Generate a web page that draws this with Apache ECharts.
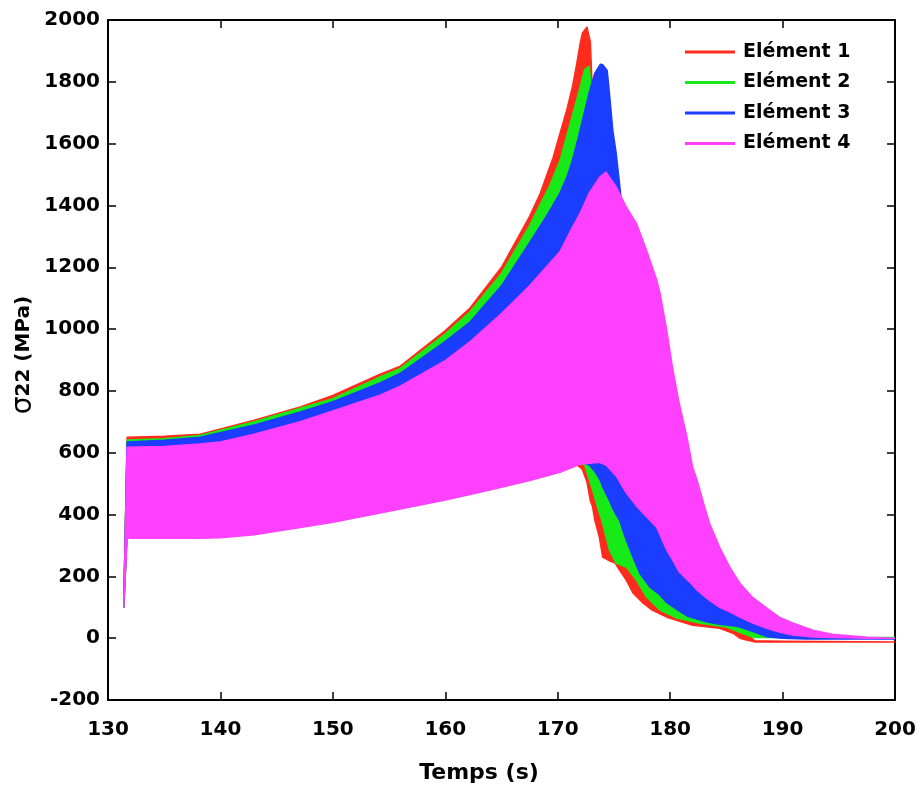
<!DOCTYPE html>
<html><head><meta charset="utf-8">
<script src="https://cdn.jsdelivr.net/npm/echarts@6/dist/echarts.min.js"></script>
<style>html,body{margin:0;padding:0;background:#fff}#c{width:923px;height:790px}</style>
</head><body><div id="c"></div>
<script>
// ---- Data (time in s, stress in MPa): upper / lower envelopes of the oscillation ----
const names = ['Elément 1', 'Elément 2', 'Elément 3', 'Elément 4'];

const t1 = [131.4,131.7,135,138.2,143,147.1,150,154.2,156,160,162.2,165,167.5,168.4,169.0,169.6,170.2,170.8,171.3,171.7,172.0,172.2,172.6,172.9,173.1,173.3,173.7,174.0,174.6,175.1,175.5,176.1,176.7,177.6,178.4,179.7,182.0,184.4,185.6,186.2,186.8,187.5,190,200];
const upper1 = [100,650,653,660,705,748,785,854,880,995,1068,1200,1365,1435,1495,1556,1633,1708,1783,1860,1925,1958,1977,1930,1750,1550,1200,1000,620,480,420,340,290,220,180,130,75,55,45,35,15,-8,-10,-12];
const lower1 = [100,345,345,345,355,378,395,425,438,467,485,508,530,537,542,548,555,560,562,560,553,545,505,445,425,382,327,262,250,243,220,188,146,113,91,68,42,32,16,0,-6,-12,-12,-12];

const t2 = [131.4,131.7,135,138.2,143,147.1,150,154.2,156,160,162.2,165,167.5,168.4,169.3,170.2,171.3,172.0,172.4,172.8,173.1,173.5,174.0,174.6,175.2,176.1,177.0,177.9,179.1,180.6,182.6,185.0,186.2,187.0,187.5,188,190,200];
const upper2 = [100,641,645,656,700,744,775,845,873,985,1056,1180,1335,1400,1465,1545,1690,1783,1840,1850,1720,1450,1100,760,590,470,365,285,200,140,90,60,50,30,20,10,3,2];
const lower2 = [100,340,340,340,350,372,390,420,432,462,480,503,525,533,543,552,562,566,560,515,479,430,372,285,243,230,188,133,91,65,49,36,19,8,2,2,2,2];

const t3 = [131.4,131.7,135,138.2,143,147.1,150,154.2,156,160,162.2,165,167.5,169.0,170.2,170.8,171.3,171.8,172.3,172.8,173.3,173.8,174.0,174.4,174.6,174.9,175.2,175.5,175.7,176.1,176.7,177.3,178.2,179.1,179.7,180.8,181.5,182.4,183.3,184.4,185.6,186.2,187.5,188.6,190,192,194,200];
const upper3 = [100,635,640,650,690,732,765,826,857,960,1023,1140,1280,1365,1440,1490,1545,1615,1690,1765,1828,1857,1855,1837,1763,1643,1569,1470,1400,1280,1100,930,690,480,400,285,245,195,165,135,105,90,60,40,20,4,0,-3];
const lower3 = [100,345,345,345,355,378,395,425,438,467,485,508,530,545,557,562,566,568,568,560,540,510,489,460,446,420,400,382,360,317,262,210,165,140,115,88,72,62,52,45,40,36,20,5,0,-3,-3,-3];

const t4 = [131.4,131.7,135,138.2,140,143,147.1,150,154.2,156,160,162.2,165,167.5,170.2,171.1,172.0,172.8,173.7,174.3,175.2,176.1,177.0,177.9,178.8,179.1,179.7,180.2,180.8,181.5,182.0,182.4,182.9,183.5,184.4,185.3,186.2,187.3,188.6,189.7,190.9,192.7,194.4,197.5,200];
const upper4 = [100,618,620,628,635,660,700,735,786,815,898,959,1050,1140,1250,1315,1375,1440,1490,1508,1460,1395,1342,1255,1160,1116,996,877,760,650,553,511,446,372,294,230,178,133,97,68,49,26,13,3,0];
const lower4 = [100,323,323,323,325,335,358,375,405,418,447,465,488,510,537,550,563,566,569,560,525,470,428,393,359,335,285,255,215,190,172,155,140,122,100,85,68,50,32,20,10,4,2,0,0];

const colors = ['#ff2b1c', '#17ea17', '#1a3dff', '#ff40ff'];
const xMin = 130, xMax = 200, xStep = 10;
const yMin = -200, yMax = 2000, yStep = 200;

const elements = [
  {t: t1, up: upper1, lo: lower1},
  {t: t2, up: upper2, lo: lower2},
  {t: t3, up: upper3, lo: lower3},
  {t: t4, up: upper4, lo: lower4}
];

// Each element is drawn as the filled band between its upper and lower envelopes,
// positioned through the chart's own axes (api.coord).
const series = elements.map((e, k) => {
  const color = colors[k];
  return {
    name: names[k], type: 'custom', z: 2 + k, animation: false, clip: true,
    itemStyle: {color: color},
    data: e.t.map((x, i) => [x, e.up[i], e.lo[i]]),
    encode: {x: 0, y: [1, 2]},
    renderItem: function (params, api) {
      if (params.dataIndex !== 0) return null;
      const pts = [];
      for (let i = 0; i < e.t.length; i++) pts.push(api.coord([e.t[i], e.up[i]]));
      for (let i = e.t.length - 1; i >= 0; i--) pts.push(api.coord([e.t[i], e.lo[i]]));
      return {
        type: 'polygon', shape: {points: pts},
        style: {fill: color, stroke: color, lineWidth: 1.5, lineJoin: 'round'}
      };
    }
  };
});

const FONT = 'DejaVu Sans';
const axisLine = {show: true, onZero: false, lineStyle: {color: '#000', width: 2}};
const axisTick = {show: true, inside: true, length: 8, lineStyle: {color: '#000', width: 1.5}};

const chart = echarts.init(document.getElementById('c'), null, {renderer: 'canvas'});
chart.setOption({
  backgroundColor: '#fff',
  animation: false,
  grid: {left: 108, right: 28, top: 20, bottom: 90, containLabel: false},
  legend: {
    data: names, orient: 'vertical', left: 680, top: 36,
    icon: 'rect', itemWidth: 50, itemHeight: 3, itemGap: 8.5,
    textStyle: {fontFamily: FONT, fontWeight: 'bold', fontSize: 19, color: '#000', lineHeight: 22, padding: [0, 0, 0, 3]}
  },
  xAxis: [
    {type: 'value', min: xMin, max: xMax, interval: xStep, position: 'bottom',
     axisLine: axisLine, axisTick: axisTick, splitLine: {show: false},
     axisLabel: {fontFamily: FONT, fontWeight: 'bold', fontSize: 20, color: '#000', margin: 20,
                 formatter: v => String(v)}},
    {type: 'value', min: xMin, max: xMax, interval: xStep, position: 'top',
     axisLine: axisLine, axisTick: axisTick, splitLine: {show: false}, axisLabel: {show: false}}
  ],
  yAxis: [
    {type: 'value', min: yMin, max: yMax, interval: yStep, position: 'left',
     axisLine: axisLine, axisTick: axisTick, splitLine: {show: false},
     axisLabel: {fontFamily: FONT, fontWeight: 'bold', fontSize: 20, color: '#000', margin: 8,
                 formatter: v => String(v)}},
    {type: 'value', min: yMin, max: yMax, interval: yStep, position: 'right',
     axisLine: axisLine, axisTick: axisTick, splitLine: {show: false}, axisLabel: {show: false}}
  ],
  graphic: [
    {type: 'text', x: 479, y: 773, style: {text: 'Temps (s)', fontFamily: FONT, fontWeight: 'bold', fontSize: 22, fill: '#000', align: 'center', verticalAlign: 'middle'}},
    {type: 'text', x: 24, y: 355, rotation: Math.PI / 2,
     style: {text: '{s|σ}{n|22 (MPa)}', align: 'center', verticalAlign: 'middle', fill: '#000',
       rich: {s: {fontFamily: FONT, fontSize: 28, fill: '#000'},
              n: {fontFamily: FONT, fontWeight: 'bold', fontSize: 20, fill: '#000'}}}}
  ],
  series: series
});
</script></body></html>
